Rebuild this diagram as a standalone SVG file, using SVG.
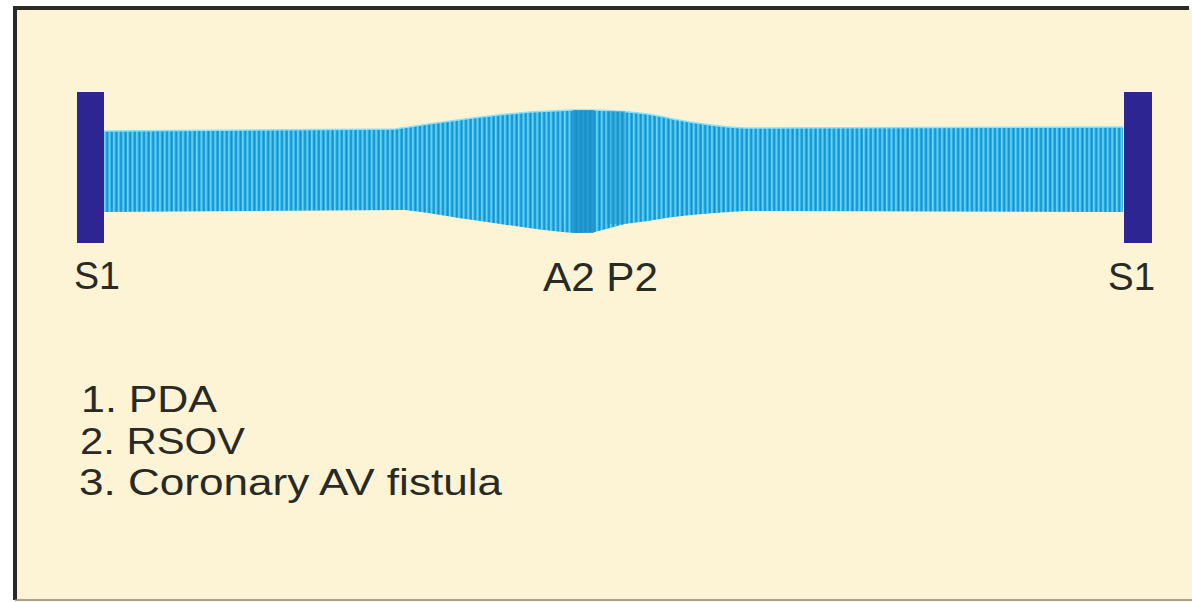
<svg xmlns="http://www.w3.org/2000/svg" width="1192" height="602" viewBox="0 0 1192 602">
  <defs>
    <pattern id="stripes" patternUnits="userSpaceOnUse" x="104" y="0" width="4.6" height="10">
      <rect x="0" y="0" width="4.6" height="10" fill="#25a8de"/>
      <rect x="0" y="0" width="1.5" height="10" fill="#6ad6f8"/>
      <rect x="2.8" y="0" width="1" height="10" fill="#138dcb"/>
    </pattern>
    <style>
      .lbl { font-family: "Liberation Sans", Arial, sans-serif; fill: #2a2a24; }
      .bar { fill: #2c2592; }
    </style>
  </defs>
  <rect x="0" y="0" width="1192" height="602" fill="#ffffff"/>
  <rect x="15" y="8" width="1177" height="594" fill="#fdf4d6"/>
  <line x1="15" y1="8" x2="1189" y2="8" stroke="#2b2b26" stroke-width="4"/>
  <line x1="15" y1="6" x2="15" y2="600" stroke="#2b2b26" stroke-width="4"/>
  <line x1="15" y1="600" x2="1192" y2="600" stroke="#8a877c" stroke-width="1.5"/>

  <g id="sound-band">
    <path d="M104,131 L395,129 C430,124 480,116 530,112 L573,110 L595,110 C625,111 650,113 673,119 C700,124 720,127 745,128 L1123,127 L1123,212 L745,211 C710,213 690,215 673,217 C655,220 640,222 625,224 L595,232 L573,233 C545,231 515,226 480,221 C450,217 425,212 405,210 L104,212 Z" fill="url(#stripes)"/>
    <path d="M104,131 L395,129 C430,124 480,116 530,112 L573,110 L595,110 C625,111 650,113 673,119 C700,124 720,127 745,128 L1123,127" fill="none" stroke="#8fe2f7" stroke-width="1.5"/>
    <rect x="573" y="110" width="21" height="123" fill="#1a8fc8" opacity="0.8"/>
    <rect x="607" y="111" width="18" height="113" fill="#1c95cc" opacity="0.5"/>
  </g>

  <g id="s1-left">
    <rect class="bar" x="77" y="92" width="27" height="151"/>
    <text class="lbl" x="74" y="289" font-size="38" textLength="46" lengthAdjust="spacingAndGlyphs">S1</text>
  </g>
  <g id="a2p2">
    <text class="lbl" x="543" y="291" font-size="40" textLength="115" lengthAdjust="spacingAndGlyphs">A2 P2</text>
  </g>
  <g id="s1-right">
    <rect class="bar" x="1124" y="92" width="28" height="151"/>
    <text class="lbl" x="1108" y="290" font-size="38" textLength="47" lengthAdjust="spacingAndGlyphs">S1</text>
  </g>

  <g id="legend">
    <text class="lbl" x="81" y="412" font-size="36" textLength="136" lengthAdjust="spacingAndGlyphs">1. PDA</text>
    <text class="lbl" x="80" y="454" font-size="36" textLength="165" lengthAdjust="spacingAndGlyphs">2. RSOV</text>
    <text class="lbl" x="79" y="495" font-size="36" textLength="423" lengthAdjust="spacingAndGlyphs">3. Coronary AV fistula</text>
  </g>
  <g id="connectors"/>
</svg>
